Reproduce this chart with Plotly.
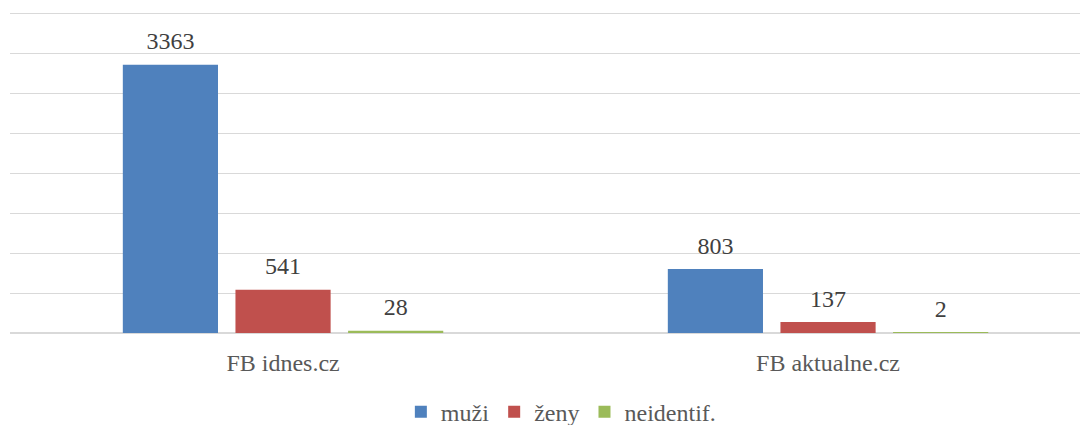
import plotly.graph_objects as go

categories = ["FB idnes.cz", "FB aktualne.cz"]
muzi = [3363, 803]
zeny = [541, 137]
neidentif = [28, 2]

series = [("muži", muzi, "#4f81bd"), ("ženy", zeny, "#c0504d"), ("neidentif.", neidentif, "#9bbb59")]
serif = "Liberation Serif"

fig = go.Figure()
for name, vals, color in series:
    fig.add_trace(go.Bar(
        x=categories, y=vals, name=name,
        marker=dict(color=color, line=dict(width=0)),
        text=vals,
        # small second line lifts the label a bit above the bar, like Excel
        texttemplate="<span style='font-size:24px'>%{y}</span><br> ",
        textposition="outside",
        textfont=dict(family=serif, size=8, color="#404040"),
        cliponaxis=False,
    ))

# page body has an 8px margin, so the figure is drawn 8px smaller
fig.update_layout(
    template="none",
    width=1080, height=417,
    margin=dict(l=2, r=0, t=2, b=92, autoexpand=False),
    paper_bgcolor="white", plot_bgcolor="white",
    barmode="group", bargap=0.38, bargroupgap=0.155,
    font=dict(family=serif, size=24, color="#595959"),
    showlegend=True,
    legend=dict(orientation="h", x=0.511, xanchor="center", y=-0.245, yanchor="middle",
                font=dict(family=serif, size=24, color="#595959"),
                itemwidth=30, traceorder="normal"),
    xaxis=dict(range=[-0.501, 1.477], showgrid=False, ticks="", showline=False,
               ticklabelstandoff=13, automargin=False,
               tickfont=dict(family=serif, size=24, color="#595959")),
    yaxis=dict(range=[0, 4050], dtick=500, showticklabels=False, showgrid=True, automargin=False,
               gridcolor="#d9d9d9", gridwidth=1, zeroline=True, zerolinecolor="#d9d9d9",
               zerolinewidth=1.5, showline=False),
)

fig.write_html("out.html")
